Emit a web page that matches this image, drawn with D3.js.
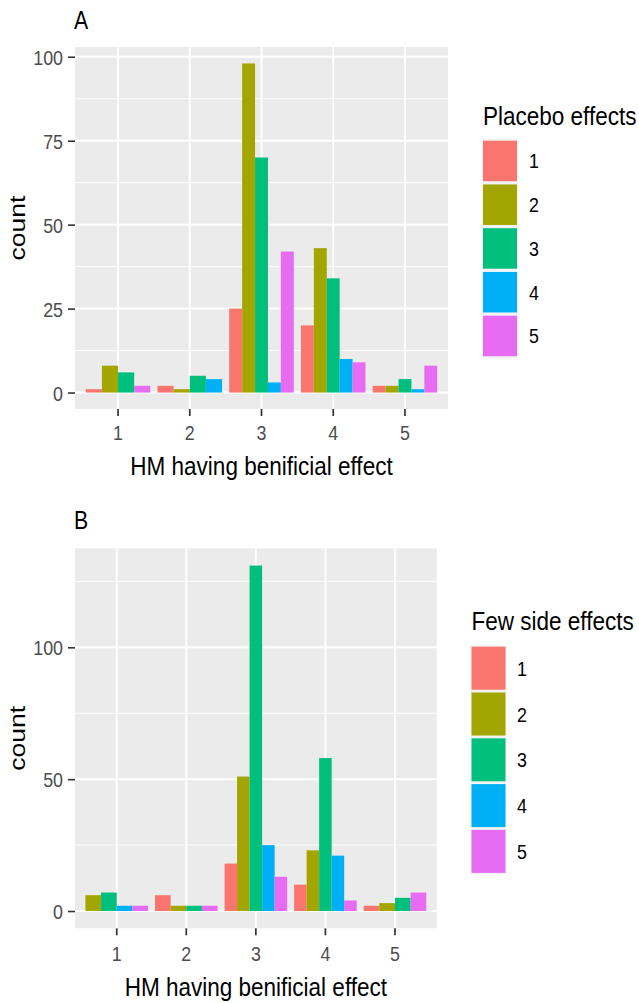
<!DOCTYPE html>
<html>
<head>
<meta charset="utf-8">
<script src="https://cdn.jsdelivr.net/npm/d3@7"></script>
<style>
  html, body { margin: 0; padding: 0; background: #fff; }
  svg { display: block; font-family: "Liberation Sans", Arial, sans-serif; }
</style>
</head>
<body>
<div id="chart"></div>
<script>
// ─── 1. DATA ──────────────────────────────────────────────────────────────────

const categories = ["1", "2", "3", "4", "5"];
const levels     = ["1", "2", "3", "4", "5"];
const colors     = ["#F8766D", "#A3A500", "#00BF7D", "#00B0F6", "#E76BF3"];

// Panel A – Placebo effects (null = no bar in that group)
const placebo1 = [1, 2, 25, 20, 2];
const placebo2 = [8, 1, 98, 43, 2];
const placebo3 = [6, 5, 70, 34, 4];
const placebo4 = [null, 4, 3, 10, 1];
const placebo5 = [2, null, 42, 9, 8];
const placeboTicks = [0, 25, 50, 75, 100];

// Panel B – Few side effects
const fewSide1 = [null, 6, 18, 10, 2];
const fewSide2 = [6, 2, 51, 23, 3];
const fewSide3 = [7, 2, 131, 58, 5];
const fewSide4 = [2, null, 25, 21, null];
const fewSide5 = [2, 2, 13, 4, 7];
const fewSideTicks = [0, 50, 100];

// ─── 2. CANVAS ────────────────────────────────────────────────────────────────
// The picture is squeezed horizontally; draw in a wider space and compress.

const K = 0.85;
const X = v => v / K;
const W = 639, H = 1003;

const svg = d3.select("#chart").append("svg")
  .attr("width", W).attr("height", H)
  .attr("viewBox", `0 0 ${X(W)} ${H}`)
  .attr("preserveAspectRatio", "none");

// ─── 3. PANEL ─────────────────────────────────────────────────────────────────

function drawPanel(cfg) {
  const { tag, series, ticks, legendTitle, box, legend } = cfg;

  const rows = categories.map((c, i) => ({
    cat: c,
    bars: levels
      .map((l, j) => ({ level: l, color: colors[j], value: series[j][i] }))
      .filter(d => d.value !== null)
  }));

  const maxVal = d3.max(rows, r => d3.max(r.bars, b => b.value));
  const pad = maxVal * 0.05;

  const x = d3.scaleBand()
    .domain(categories)
    .range([box.left, box.right])
    .paddingInner(0).paddingOuter(0.1);

  const y = d3.scaleLinear()
    .domain([-pad, maxVal + pad])
    .range([box.bottom, box.top]);

  const g = svg.append("g");

  // panel background
  g.append("rect")
    .attr("x", box.left).attr("y", box.top)
    .attr("width", box.right - box.left).attr("height", box.bottom - box.top)
    .attr("fill", "#EBEBEB");

  // minor grid
  const step = ticks[1] - ticks[0];
  const minor = d3.range(ticks[0] + step / 2, maxVal + pad, step);
  g.selectAll(".minor").data(minor).enter().append("line")
    .attr("x1", box.left).attr("x2", box.right)
    .attr("y1", d => y(d)).attr("y2", d => y(d))
    .attr("stroke", "#fff").attr("stroke-width", 1);

  // major grid
  g.selectAll(".hmajor").data(ticks).enter().append("line")
    .attr("x1", box.left).attr("x2", box.right)
    .attr("y1", d => y(d)).attr("y2", d => y(d))
    .attr("stroke", "#fff").attr("stroke-width", 2);

  const cx = c => x(c) + x.bandwidth() / 2;
  g.selectAll(".vmajor").data(categories).enter().append("line")
    .attr("x1", cx).attr("x2", cx)
    .attr("y1", box.top).attr("y2", box.bottom)
    .attr("stroke", "#fff").attr("stroke-width", 2.2);

  // dodged bars
  rows.forEach(r => {
    const half = x.step() * 0.45;
    const inner = d3.scaleBand()
      .domain(r.bars.map(b => b.level))
      .range([cx(r.cat) - half, cx(r.cat) + half])
      .padding(0);
    g.selectAll(null).data(r.bars).enter().append("rect")
      .attr("x", d => inner(d.level))
      .attr("width", inner.bandwidth())
      .attr("y", d => y(d.value))
      .attr("height", d => y(0) - y(d.value))
      .attr("fill", d => d.color);
  });

  // y axis
  const yAxis = g.append("g")
    .attr("transform", `translate(${box.left},0)`)
    .call(d3.axisLeft(y).tickValues(ticks).tickSize(X(7)).tickPadding(X(5)));
  yAxis.select(".domain").remove();
  yAxis.selectAll(".tick line").attr("stroke", "#333").attr("stroke-width", 1.6);
  yAxis.selectAll(".tick text")
    .attr("fill", "#4D4D4D").style("font-size", "21px").attr("dy", "0.36em");

  // x axis
  const xAxis = g.append("g")
    .attr("transform", `translate(0,${box.bottom})`)
    .call(d3.axisBottom(x).tickSize(7).tickPadding(8));
  xAxis.select(".domain").remove();
  xAxis.selectAll(".tick line").attr("stroke", "#333").attr("stroke-width", 2);
  xAxis.selectAll(".tick text")
    .attr("fill", "#4D4D4D").style("font-size", "21px")
    .attr("y", cfg.xTickBase - box.bottom).attr("dy", 0);

  // axis titles
  g.append("text")
    .attr("x", (box.left + box.right) / 2).attr("y", cfg.xTitleBase)
    .attr("text-anchor", "middle").style("font-size", "26.5px")
    .text("HM having benificial effect");

  g.append("text")
    .attr("transform", `translate(${X(25)},${(box.top + box.bottom) / 2}) rotate(-90)`)
    .attr("text-anchor", "middle").style("font-size", "26.5px")
    .text("count");

  // panel tag
  g.append("text")
    .attr("x", X(74)).attr("y", cfg.tagBase)
    .style("font-size", "25px").text(tag);

  // legend
  const lg = g.append("g");
  lg.append("text")
    .attr("x", legend.x).attr("y", legend.titleBase)
    .style("font-size", "26.5px").text(legendTitle);

  const keys = lg.selectAll(".key").data(levels).enter().append("g")
    .attr("transform", (d, i) => `translate(${legend.x},${legend.top + i * legend.pitch})`);
  keys.append("rect")
    .attr("x", -1).attr("y", -1.5)
    .attr("width", X(34) + 2).attr("height", legend.pitch)
    .attr("fill", "#F2F2F2");
  keys.append("rect")
    .attr("width", X(34)).attr("height", legend.keyH)
    .attr("fill", (d, i) => colors[i]);
  keys.append("text")
    .attr("x", legend.labelX - legend.x).attr("y", legend.keyH / 2)
    .attr("dy", "0.36em").style("font-size", "21px")
    .text(d => d);
}

// ─── 4. RENDER ────────────────────────────────────────────────────────────────

drawPanel({
  tag: "A",
  series: [placebo1, placebo2, placebo3, placebo4, placebo5],
  ticks: placeboTicks,
  legendTitle: "Placebo effects",
  box: { left: X(75), right: X(448), top: 47, bottom: 409 },
  xTickBase: 440, xTitleBase: 475, tagBase: 29,
  legend: { x: X(483), labelX: X(529), titleBase: 125, top: 140.7, pitch: 43.75, keyH: 40.5 }
});

drawPanel({
  tag: "B",
  series: [fewSide1, fewSide2, fewSide3, fewSide4, fewSide5],
  ticks: fewSideTicks,
  legendTitle: "Few side effects",
  box: { left: X(75), right: X(436.7), top: 548.3, bottom: 928.3 },
  xTickBase: 961.5, xTitleBase: 995.5, tagBase: 529,
  legend: { x: X(471.5), labelX: X(517), titleBase: 630, top: 646.7, pitch: 45.8, keyH: 43 }
});
</script>
</body>
</html>
